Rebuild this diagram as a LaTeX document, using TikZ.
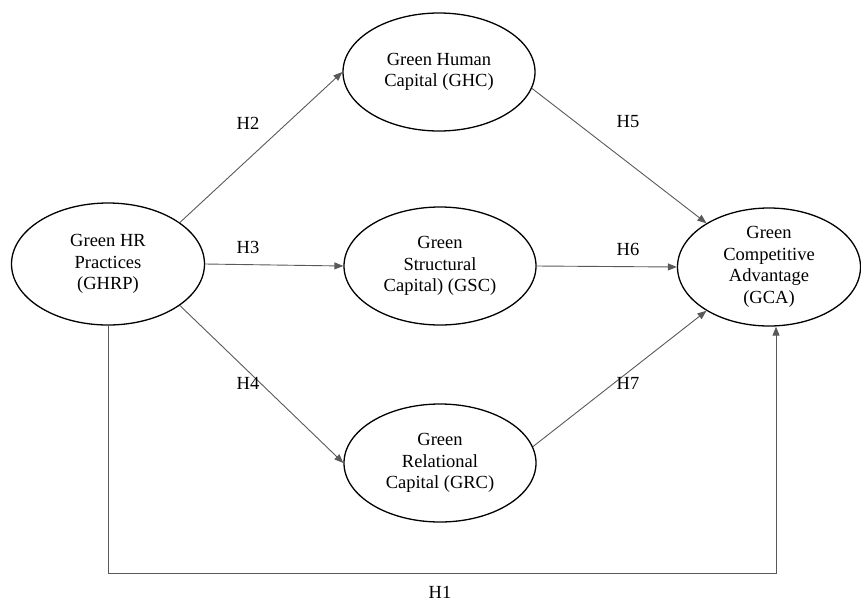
\documentclass[tikz,border=0pt]{standalone}
\usepackage{fontspec}
\setmainfont{Liberation Serif}
\usetikzlibrary{arrows.meta,shapes.geometric}
\tikzset{
 construct/.style={ellipse,draw,line width=1.3pt,minimum width=192pt,minimum height=118pt,inner sep=0,align=center,font=\fontsize{18.5}{21.5}\selectfont},
 link/.style={draw=black!65,line width=.9pt,-{Triangle[length=9pt,width=7pt]}},
 hyp/.style={font=\fontsize{18.5}{21.5}\selectfont}
}
\begin{document}
\begin{tikzpicture}[x=1pt,y=-1pt]
\useasboundingbox (0,0) rectangle (861,603);
\node[construct,minimum width=193pt,minimum height=122pt] (ghrp) at (108,264) {Green HR\\Practices\\(GHRP)};
\node[construct] (ghc) at (439,72) {Green Human\\Capital (GHC)};
\node[construct] (gsc) at (440,266) {Green\\Structural\\Capital) (GSC)};
\node[construct] (grc) at (440,463) {Green\\Relational\\Capital (GRC)};
\node[construct,minimum width=183pt,minimum height=118pt] (gca) at (769,267) {Green\\Competitive\\Advantage\\(GCA)};
\coordinate (h1r) at (776,573);
\draw[link] (ghrp.30) -- (ghc.west);
\draw[link] (ghrp.east) -- (gsc.west);
\draw[link] (ghrp.-30) -- (grc.west);
\draw[link] (ghc.-10) -- (gca.145);
\draw[link] (gsc.east) -- (gca.west);
\draw[link] (grc.10) -- (gca.215);
\draw[link] (ghrp.south) |- (h1r) -- (h1r |- gca.south);
\node[hyp] (h2) at (248,123) {H2};
\node[hyp] (h3) at (248,247) {H3};
\node[hyp] (h4) at (248,383) {H4};
\node[hyp] (h5) at (628,122) {H5};
\node[hyp] (h6) at (628,249) {H6};
\node[hyp] (h7) at (628,383) {H7};
\node[hyp] (h1) at (440,592) {H1};
\end{tikzpicture}
\end{document}
